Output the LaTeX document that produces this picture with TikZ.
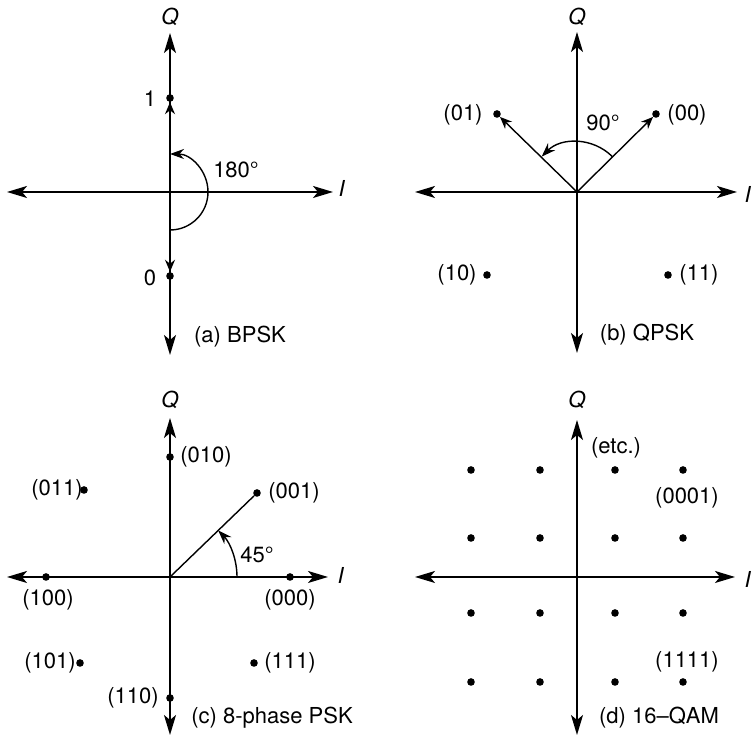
\documentclass[tikz,border=0pt]{standalone}
\usepackage{fontspec}
\setmainfont{TeX Gyre Heros}
\usetikzlibrary{arrows.meta}

\tikzset{
  axis/.style={line width=0.9pt, {Stealth[length=10pt,width=6pt,inset=2.5pt]}-{Stealth[length=10pt,width=6pt,inset=2.5pt]}},
  vec/.style={line width=0.7pt, -{Stealth[length=6pt,width=5pt]}},
  turn/.style={line width=0.7pt, -{Stealth[length=7pt,width=5pt]}},
  pt/.style={circle, fill, inner sep=0pt, minimum size=3.8pt},
  lbl/.style={inner sep=1pt, font=\fontsize{11}{13}\selectfont},
}

\begin{document}
\begin{tikzpicture}[x=0.5pt, y=0.5pt]
\useasboundingbox (0,0) rectangle (752,738);

% (a) BPSK
\begin{scope}[shift={(170,546)}]
  \coordinate (a-o) at (0,0);
  \coordinate (a-w) at (-163,0);  \coordinate (a-e) at (163,0);
  \coordinate (a-s) at (0,-163);  \coordinate (a-n) at (0,159);
  \draw[axis] (a-w) -- (a-e);
  \draw[axis] (a-s) -- (a-n);
  \node[lbl] (a-Q) at (0,175) {\textit{Q}};
  \node[lbl] (a-I) at (172,4) {\textit{I}};
  \node[pt] (a-one) at (0,94) {};
  \node[pt] (a-zero) at (0,-84) {};
  \draw[vec] (a-o) -- (a-one);
  \draw[vec] (a-o) -- (a-zero);
  \node[lbl] (a-one-t) at (-20,93) {1};
  \node[lbl] (a-zero-t) at (-20,-86) {0};
  \draw[turn] (0,-38) arc[start angle=-90, end angle=90, radius=38];
  \node[lbl] (a-ang) at (66,22) {180\textdegree};
  \node[lbl] (a-cap) at (70,-145) {(a) BPSK};
\end{scope}

% (b) QPSK
\begin{scope}[shift={(577,546)}]
  \coordinate (b-o) at (0,0);
  \coordinate (b-w) at (-162,0);  \coordinate (b-e) at (160,0);
  \coordinate (b-s) at (0,-161);  \coordinate (b-n) at (0,160);
  \draw[axis] (b-w) -- (b-e);
  \draw[axis] (b-s) -- (b-n);
  \node[lbl] (b-Q) at (0,175) {\textit{Q}};
  \node[lbl] (b-I) at (171,-2) {\textit{I}};
  \node[pt] (b-01) at (-80,78) {};
  \node[pt] (b-00) at (79,78) {};
  \node[pt] (b-10) at (-90,-83) {};
  \node[pt] (b-11) at (91,-83) {};
  \draw[vec] (b-o) -- (b-01);
  \draw[vec] (b-o) -- (b-00);
  \node[lbl] (b-01-t) at (-114,77) {(01)};
  \node[lbl] (b-00-t) at (110,77) {(00)};
  \node[lbl] (b-10-t) at (-120,-83) {(10)};
  \node[lbl] (b-11-t) at (122,-83) {(11)};
  \draw[turn] (45:50) arc[start angle=45, end angle=135, radius=50];
  \node[lbl] (b-ang) at (26,69) {90\textdegree};
  \node[lbl] (b-cap) at (70,-143) {(b) QPSK};
\end{scope}

% (c) 8-phase PSK
\begin{scope}[shift={(170,161)}]
  \coordinate (c-o) at (0,0);
  \coordinate (c-w) at (-163,0);  \coordinate (c-e) at (158,0);
  \coordinate (c-s) at (0,-158);  \coordinate (c-n) at (0,159);
  \draw[axis] (c-w) -- (c-e);
  \draw[axis] (c-s) -- (c-n);
  \node[lbl] (c-Q) at (0,177) {\textit{Q}};
  \node[lbl] (c-I) at (171,2) {\textit{I}};
  \foreach \code/\px/\py/\tx/\ty in {000/120/0/120/-23, 001/87/84/124/84,
      010/0/120/36/120, 011/-86/87/-113/87, 100/-124/0/-122/-23,
      101/-90/-86/-120/-86, 110/0/-121/-37/-121, 111/84/-86/120/-86}
  {
    \node[pt] (c-\code) at (\px,\py) {};
    \node[lbl] (c-\code-t) at (\tx,\ty) {(\code)};
  }
  \draw[line width=0.7pt] (c-o) -- (c-001);
  \draw[turn] (67,0) arc[start angle=0, end angle=44, radius=67];
  \node[lbl] (c-ang) at (87,22) {45\textdegree};
  \node[lbl] (c-cap) at (102,-141) {(c) 8-phase PSK};
\end{scope}

% (d) 16-QAM
\begin{scope}[shift={(577,161)}]
  \coordinate (d-o) at (0,0);
  \coordinate (d-w) at (-162,0);  \coordinate (d-e) at (158,0);
  \coordinate (d-s) at (0,-158);  \coordinate (d-n) at (0,157);
  \draw[axis] (d-w) -- (d-e);
  \draw[axis] (d-s) -- (d-n);
  \node[lbl] (d-Q) at (0,177) {\textit{Q}};
  \node[lbl] (d-I) at (171,-2) {\textit{I}};
  \foreach \i/\x in {1/-106,2/-37,3/38,4/106}
    \foreach \j/\y in {1/107,2/39,3/-36,4/-105}
      \node[pt] (d-\i\j) at (\x,\y) {};
  \node[lbl] (d-etc) at (39,129) {(etc.)};
  \node[lbl] (d-0001) at (110,79) {(0001)};
  \node[lbl] (d-1111) at (110,-85) {(1111)};
  \node[lbl] (d-cap) at (82,-141) {(d) 16--QAM};
\end{scope}

\end{tikzpicture}
\end{document}
